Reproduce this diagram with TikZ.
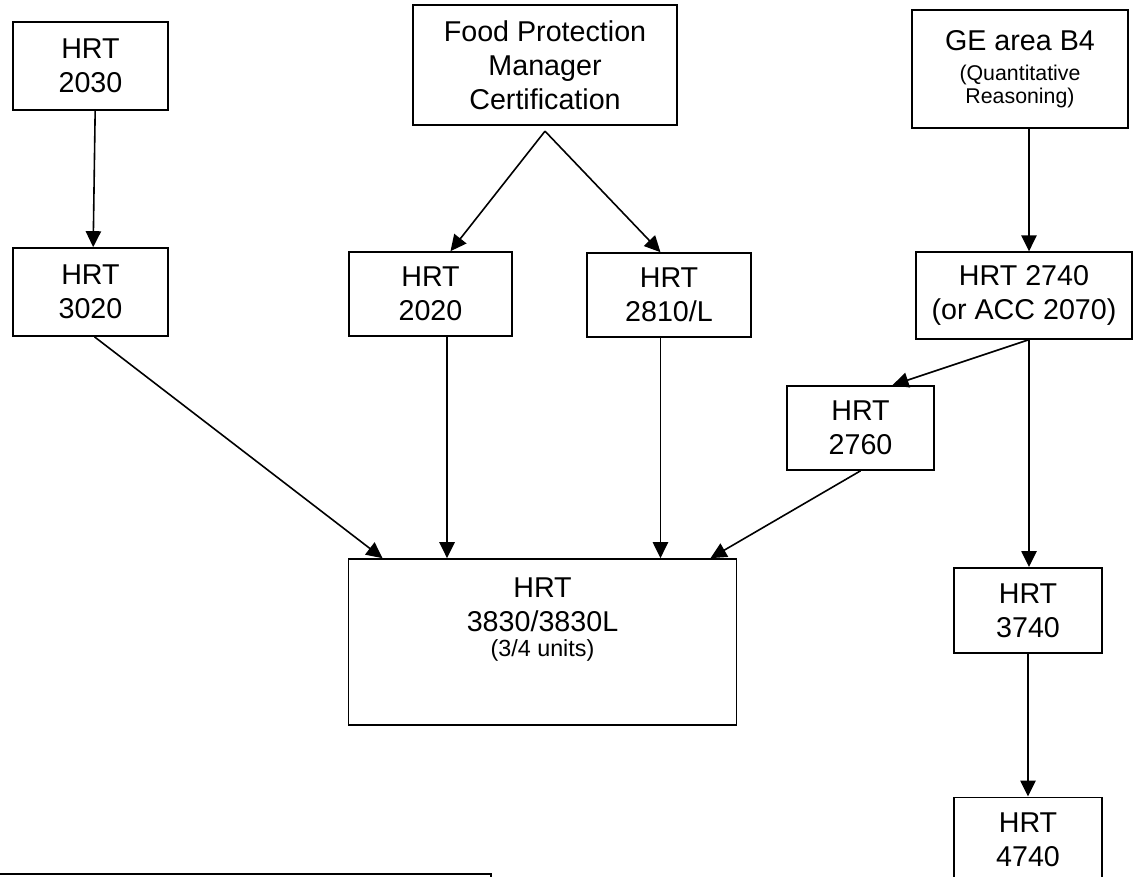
\documentclass[tikz,border=0pt]{standalone}
\usepackage{fontspec}
\setmainfont{Liberation Sans}
\usetikzlibrary{arrows.meta,positioning}
\newcommand{\smalltxt}{\fontsize{16}{17}\selectfont}
\newcommand{\unitstxt}{\fontsize{17.5}{19}\selectfont}

\begin{document}
\begin{tikzpicture}[x=0.75pt,y=-0.75pt,
        box/.style={draw,rectangle,line width=1.25pt,align=center,inner sep=0pt,
            font=\fontsize{21.5}{25.5}\selectfont},
        arr/.style={line width=1.2pt,-{Triangle[length=12pt,width=11.5pt]}}]
        \useasboundingbox (0,0) rectangle (1135,877);
        \clip (0,0) rectangle (1135,877);

        \coordinate (p2030) at (90.5,66);
        \coordinate (p3020) at (90.5,292);
        \coordinate (pfood) at (545,65);
        \coordinate (p2020) at (430.5,294);
        \coordinate (p2810) at (669,295);
        \coordinate (pge) at (1020,69);
        \coordinate (p2740) at (1024,295.5);
        \coordinate (p2760) at (860.5,428);
        \coordinate (p3830) at (542.5,642);
        \coordinate (p3740) at (1028,610.5);
        \coordinate (p4740) at (1028,840);

        \node[box,minimum width=116pt,minimum height=66pt] (n2030) at (p2030) {HRT\\2030};
        \node[box,minimum width=116pt,minimum height=66pt] (n3020) at (p3020) {HRT\\3020};
        \node[box,minimum width=198pt,minimum height=90pt] (nfood) at (pfood) {Food Protection\\Manager\\Certification};
        \node[box,minimum width=122pt,minimum height=63pt] (n2020) at (p2020) {HRT\\2020};
        \node[box,minimum width=123pt,minimum height=63pt] (n2810) at (p2810) {HRT\\2810/L};
        \node[box,minimum width=162pt,minimum height=88.5pt] (nge) at (pge) {GE area B4\\[-3pt]\smalltxt (Quantitative\\[-8.5pt]\smalltxt Reasoning)};
        \node[box,minimum width=162pt,minimum height=65pt] (n2740) at (p2740) {HRT 2740\\(or ACC 2070)};
        \node[box,minimum width=110pt,minimum height=63pt] (n2760) at (p2760) {HRT\\2760};
        \node[box,minimum width=291pt,minimum height=124.5pt] (n3830) at (p3830) {};
        \node[box,draw=none,anchor=north] (t3830) at ([yshift=-14pt]n3830.north) {HRT\\3830/3830L\\[-6.5pt]\unitstxt (3/4 units)};
        \node[box,minimum width=111pt,minimum height=64pt] (n3740) at (p3740) {HRT\\3740};
        \node[box,minimum width=111pt,minimum height=64pt] (n4740) at (p4740) {HRT\\4740};
        \node[box,minimum width=375pt,minimum height=45pt,anchor=north west] (note) at (-10,873) {};

        \coordinate (fp) at ([yshift=-4pt]nfood.south);
        \draw[arr] ([xshift=3.5pt]n2030.south) -- ([xshift=2pt]n3020.north);
        \draw[arr] (fp) -- ([xshift=15pt]n2020.north);
        \draw[arr] (fp) -- ([xshift=-6.4pt]n2810.north);
        \draw[arr] ([xshift=3pt]n3020.south) -- ([xshift=-120pt]n3830.north);
        \draw[arr] ([xshift=12.4pt]n2020.south) -- ([xshift=12.4pt]n2020.south |- n3830.north);
        \draw[arr] ([xshift=-6.4pt]n2810.south) -- ([xshift=-6.4pt]n2810.south |- n3830.north);
        \draw[arr] (n2760.south) -- ([xshift=126pt]n3830.north);
        \draw[arr] ([xshift=6.75pt]nge.south) -- ([xshift=6.75pt]nge.south |- n2740.north);
        \draw[arr] ([xshift=3.75pt]n2740.south) -- ([xshift=24pt]n2760.north);
        \draw[arr] ([xshift=3.75pt]n2740.south) -- ([xshift=3.75pt]n2740.south |- n3740.north);
        \draw[arr] (n3740.south) -- (n4740.north);
\end{tikzpicture}
\end{document}
